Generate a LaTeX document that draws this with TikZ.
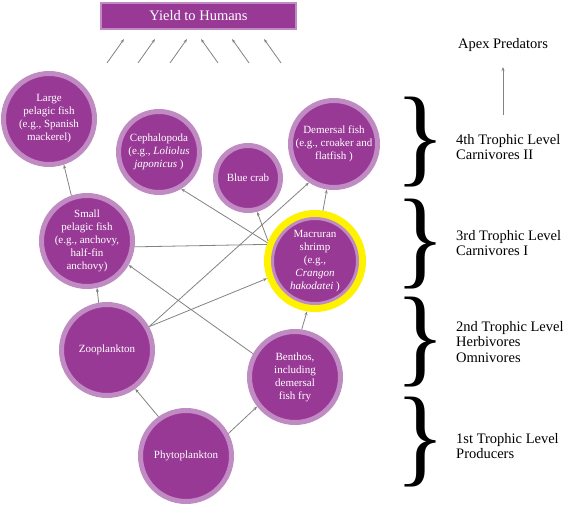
\documentclass[tikz,border=0pt]{standalone}
\usepackage{fontspec}
\setmainfont{Liberation Serif}
\usetikzlibrary{positioning}
\usetikzlibrary{arrows.meta}

\definecolor{webpurple}{RGB}{153,57,150}
\definecolor{webring}{RGB}{192,138,194}
\definecolor{webarrow}{RGB}{130,130,130}

\tikzset{
    species/.style={circle, draw=webring, line width=5pt, fill=webpurple, text=white,
        align=center, inner sep=0pt, font=\fontsize{11}{13}\selectfont},
    shrimpring/.style={species, line width=3pt, outer sep=8.5pt,
        preaction={draw=yellow, line width=17pt}},
    feed/.style={->, draw=webarrow, line width=0.8pt},
    level/.style={anchor=west, align=left, inner sep=1pt, font=\fontsize{14.5}{15.5}\selectfont},
    bracket/.style={anchor=west, inner sep=0pt}
}

\newcommand{\levelbrace}{\resizebox*{50pt}{90pt}{\}}}

\begin{document}
\begin{tikzpicture}[x=1pt, y=-1pt, >={Stealth[length=4pt,width=3pt]}]

\useasboundingbox (0,0) rectangle (567,505);

% Yield box
\node[draw=webring, line width=2pt, fill=webpurple, text=white, minimum width=195pt,
    minimum height=26pt, font=\fontsize{14.5}{16}\selectfont] (yield) at (198.5,16) {Yield to Humans};

% Species
\node[species, minimum size=91pt] (large) at (49,119) {Large\\pelagic fish\\(e.g., Spanish\\mackerel)};
\node[species, minimum size=81pt] (ceph) at (159,152) {Cephalopoda\\(e.g., \textit{Loliolus}\\\textit{japonicus} )};
\node[species, minimum size=65pt] (crab) at (248,178) {Blue crab};
\node[species, minimum size=87pt] (demersal) at (334,144) {Demersal fish\\(e.g., croaker and\\flatfish )};
\node[species, minimum size=91pt] (small) at (87,241) {Small\\pelagic fish\\(e.g., anchovy,\\half-fin\\anchovy)};
\node[shrimpring, minimum size=85pt] (shrimp) at (315,261) {Macruran\\shrimp\\(e.g.,\\\textit{Crangon}\\\textit{hakodatei} )};
\node[species, minimum size=91pt] (zoo) at (107,350) {Zooplankton};
\node[species, minimum size=91pt] (benthos) at (295,377) {Benthos,\\including\\demersal\\fish fry};
\node[species, minimum size=91pt] (phyto) at (186,456) {Phytoplankton};

% Feeding links
\draw[feed] (small.109) -- (large.288);
\draw[feed] (zoo.100) -- (small.282);
\draw[feed] (phyto.125) -- (zoo.306);
\draw[feed] (phyto.28) -- (benthos.218);
\draw[feed] (benthos.82) -- (shrimp.261);
\draw[feed] (benthos.151) -- (small.330);
\draw[feed] (zoo.29) -- (shrimp.200);
\draw[feed] (zoo.29) -- (demersal.237);
\draw[webarrow, line width=0.8pt] (small.353) -- (shrimp.161);
\draw[feed] (shrimp.159) -- (ceph.301);
\draw[feed] (shrimp.157) -- (crab.285);
\draw[feed] (shrimp.81) -- (demersal.261);

% Arrows to yield
\foreach \x [count=\i] in {107,138,170} {
    \coordinate (lo\i) at (\x,63);
    \coordinate (hi\i) at (\x+17,39);
    \draw[feed] (lo\i) -- (hi\i);
}
\foreach \x [count=\i from 4] in {218,249,281} {
    \coordinate (lo\i) at (\x,63);
    \coordinate (hi\i) at (\x-17,39);
    \draw[feed] (lo\i) -- (hi\i);
}

% Trophic levels
\node[level, anchor=center] (apex) at (503,45) {Apex Predators};
\coordinate (apexfoot) at (503,115);
\coordinate (apextip) at (503,67);
\draw[feed] (apexfoot) -- (apextip);

\node[level] (lvl4) at (455,147) {4th Trophic Level\\Carnivores II};
\node[level] (lvl3) at (455,243) {3rd Trophic Level\\Carnivores I};
\node[level] (lvl2) at (455,342) {2nd Trophic Level\\Herbivores\\Omnivores};
\node[level] (lvl1) at (455,446) {1st Trophic Level\\Producers};

\foreach \y [count=\i] in {142, 244, 342, 442.5} {
    \node[bracket] (brace\i) at (395,\y) {\levelbrace};
}

\end{tikzpicture}
\end{document}
